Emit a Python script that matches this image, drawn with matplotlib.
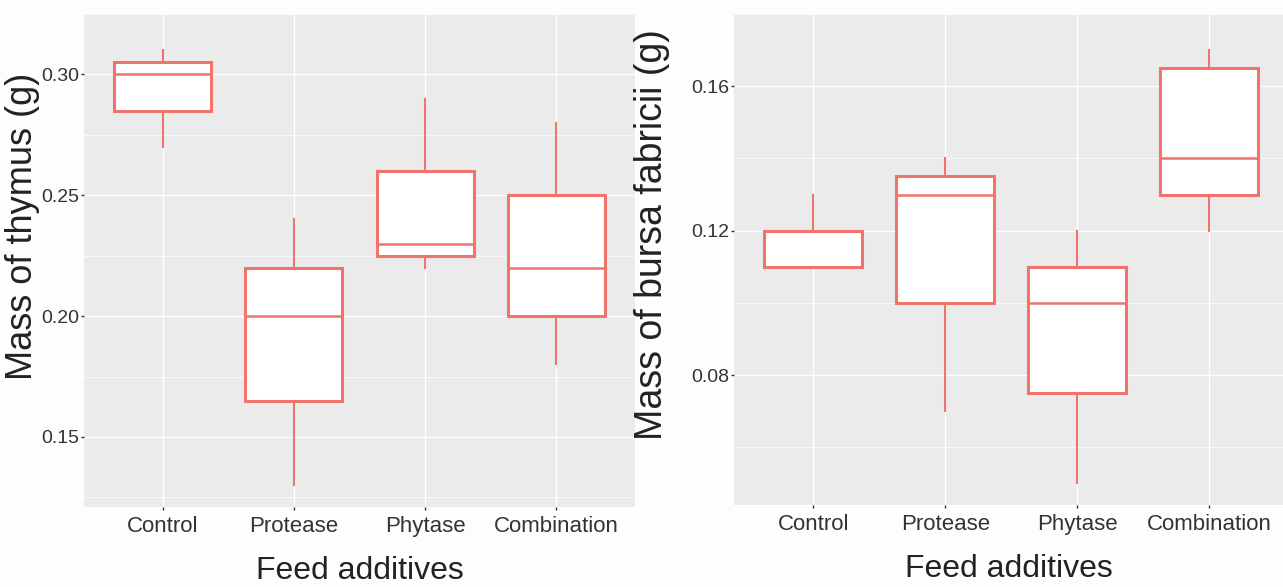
import matplotlib
matplotlib.use("Agg")
import matplotlib.pyplot as plt

# données
categories = ["Control", "Protease", "Phytase", "Combination"]

thymus_whislo = [0.27, 0.13, 0.22, 0.18]
thymus_q1 = [0.285, 0.165, 0.225, 0.20]
thymus_med = [0.30, 0.20, 0.23, 0.22]
thymus_q3 = [0.305, 0.22, 0.26, 0.25]
thymus_whishi = [0.31, 0.24, 0.29, 0.28]

bursa_whislo = [0.11, 0.07, 0.05, 0.12]
bursa_q1 = [0.11, 0.10, 0.075, 0.13]
bursa_med = [0.11, 0.13, 0.10, 0.14]
bursa_q3 = [0.12, 0.135, 0.11, 0.165]
bursa_whishi = [0.13, 0.14, 0.12, 0.17]

thymus_ticks = [0.15, 0.20, 0.25, 0.30]
bursa_ticks = [0.08, 0.12, 0.16]

RED = "#F0746B"
W, H = 1283, 587

plt.rcParams["font.family"] = ["Liberation Sans", "DejaVu Sans"]

fig = plt.figure(figsize=(W / 100, H / 100), dpi=100)
fig.patch.set_facecolor("#FDFDFD")


def draw(ax, lo, q1, med, q3, hi, ticks, ylabel, xmax, ysize, ypos):
    stats = []
    for i in range(len(categories)):
        stats.append({"whislo": lo[i], "q1": q1[i], "med": med[i], "q3": q3[i],
                      "whishi": hi[i], "fliers": []})
    ax.set_facecolor("#EBEBEB")
    ax.bxp(stats, positions=range(1, 5), widths=0.74, showcaps=False,
           patch_artist=True,
           boxprops=dict(facecolor="white", edgecolor=RED, linewidth=2.2),
           medianprops=dict(color=RED, linewidth=1.8),
           whiskerprops=dict(color=RED, linewidth=1.5),
           zorder=3)
    ax.set_xlim(0.4, xmax)
    vals = lo + hi
    rng = max(vals) - min(vals)
    ax.set_ylim(min(vals) - 0.05 * rng, max(vals) + 0.05 * rng)
    ax.set_yticks(ticks)
    ax.set_yticklabels([f"{t:.2f}" for t in ticks])
    step = ticks[1] - ticks[0]
    minors = [ticks[0] - step / 2] + [t + step / 2 for t in ticks]
    ax.set_yticks(minors, minor=True)
    ax.set_xticks(range(1, 5))
    ax.set_xticklabels(categories)
    ax.grid(True, which="major", color="white", linewidth=1.0, zorder=0)
    ax.grid(True, which="minor", axis="y", color="white", linewidth=0.5, zorder=0)
    ax.set_axisbelow(True)
    ax.tick_params(axis="y", which="minor", length=0)
    ax.tick_params(axis="both", which="major", length=2.5, color="#333333", width=1)
    ax.tick_params(axis="y", labelsize=14, labelcolor="#333333", pad=1)
    ax.tick_params(axis="x", labelsize=16, labelcolor="#333333", pad=4)
    for s in ax.spines.values():
        s.set_visible(False)
    ax.set_ylabel(ylabel, fontsize=ysize, color="#222222")
    ax.yaxis.set_label_coords(ypos[0], ypos[1])
    ax.set_xlabel("Feed additives", fontsize=23, color="#222222", labelpad=14)


ax1 = fig.add_axes([84 / W, (H - 507) / H, (635 - 84) / W, (507 - 14) / H])
draw(ax1, thymus_whislo, thymus_q1, thymus_med, thymus_q3, thymus_whishi,
     thymus_ticks, "Mass of thymus (g)", 4.6, 26, (-0.080, 0.57))

ax2 = fig.add_axes([734 / W, (H - 505) / H, (W - 734) / W, (505 - 14) / H])
draw(ax2, bursa_whislo, bursa_q1, bursa_med, bursa_q3, bursa_whishi,
     bursa_ticks, "Mass of bursa fabricii (g)", 0.4 + (W - 734) / 132, 27, (-0.117, 0.55))

fig.savefig("out.png", dpi=100, facecolor=fig.get_facecolor())
